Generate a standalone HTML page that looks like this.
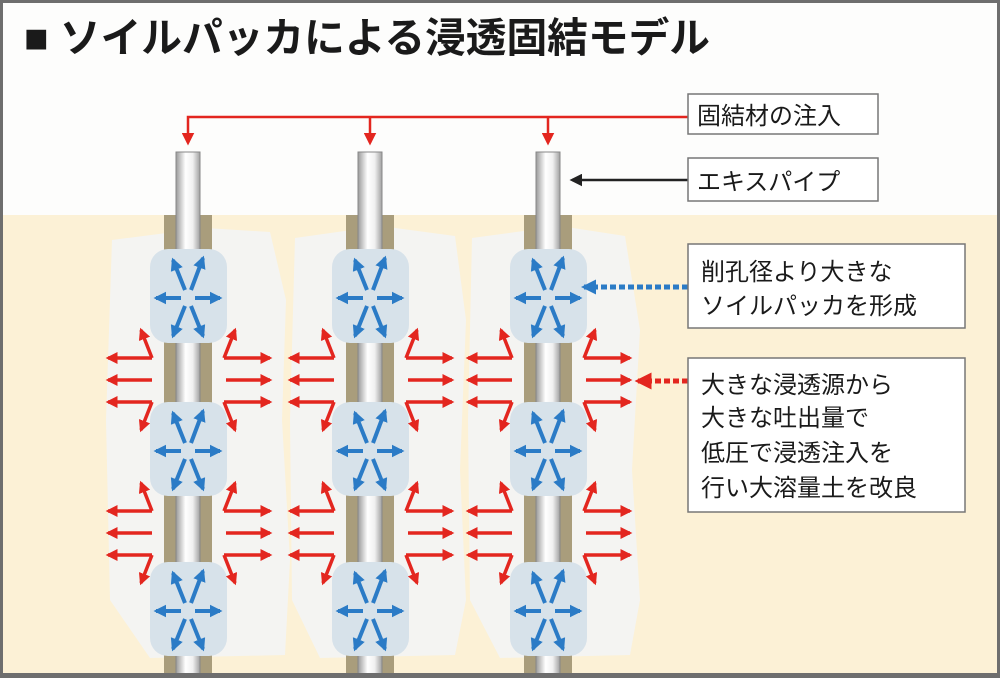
<!DOCTYPE html>
<html><head><meta charset="utf-8"><style>
html,body{margin:0;padding:0;background:#fff}
svg{display:block}
text{font-family:"Liberation Sans","Noto Sans CJK JP",sans-serif}
</style></head><body>
<svg width="1000" height="678" viewBox="0 0 1000 678" xmlns="http://www.w3.org/2000/svg">
<defs>
<marker id="mb" viewBox="0 0 10 10" refX="8" refY="5" markerWidth="3.2" markerHeight="3.2" orient="auto"><path d="M0,0L10,5L0,10z" fill="#2b7bc6"/></marker>
<marker id="mr" viewBox="0 0 10 10" refX="8" refY="5" markerWidth="3.4" markerHeight="3.4" orient="auto"><path d="M0,0L10,5L0,10z" fill="#e3261f"/></marker>
<marker id="mr2" viewBox="0 0 10 10" refX="8" refY="5" markerWidth="5" markerHeight="5" orient="auto"><path d="M0,0L10,5L0,10z" fill="#e3261f"/></marker>
<marker id="mk" viewBox="0 0 10 10" refX="8" refY="5" markerWidth="5" markerHeight="5" orient="auto"><path d="M0,0L10,5L0,10z" fill="#222"/></marker>
<marker id="mbb" viewBox="0 0 10 10" refX="8" refY="5" markerWidth="3" markerHeight="3" orient="auto"><path d="M0,0L10,5L0,10z" fill="#2b7bc6"/></marker>
<linearGradient id="pg" x1="0" x2="1"><stop offset="0" stop-color="#9a9a9a"/><stop offset="0.4" stop-color="#ffffff"/><stop offset="0.7" stop-color="#f0f0f0"/><stop offset="1" stop-color="#a0a0a0"/></linearGradient>
<g id="pk">
<rect x="-38" y="-47" width="77" height="94" rx="18" fill="#d7e2ea"/>
<g stroke="#2b7bc6" stroke-width="4" marker-end="url(#mb)" fill="none">
<line x1="-3" y1="-6" x2="-15" y2="-36"/><line x1="3" y1="-6" x2="15" y2="-38"/>
<line x1="-7" y1="2" x2="-32" y2="2"/><line x1="7" y1="2" x2="32" y2="2"/>
<line x1="-3" y1="10" x2="-15" y2="40"/><line x1="3" y1="10" x2="15" y2="40"/>
</g></g>
<g id="rd" stroke="#e3261f" stroke-width="3.5" fill="none" marker-end="url(#mr)">
<line x1="-36" y1="-22" x2="-47" y2="-50"/>
<line x1="-36" y1="-22" x2="-80" y2="-22"/>
<line x1="-36" y1="0" x2="-80" y2="0"/>
<line x1="-36" y1="22" x2="-80" y2="22"/>
<line x1="-36" y1="22" x2="-47" y2="50"/>
<line x1="36" y1="-22" x2="47" y2="-50"/>
<line x1="36" y1="-22" x2="82" y2="-22"/>
<line x1="38" y1="0" x2="82" y2="0"/>
<line x1="36" y1="22" x2="82" y2="22"/>
<line x1="36" y1="22" x2="47" y2="50"/>
</g>
<g id="col">
<rect x="-24" y="0" width="48" height="470" fill="#a99d7c"/>
<rect x="-12" y="-63" width="24" height="533" fill="url(#pg)" stroke="#888" stroke-width="1"/>
<use href="#pk" y="81"/><use href="#pk" y="234"/><use href="#pk" y="394"/>
<use href="#rd" y="165"/><use href="#rd" y="318"/>
</g>
</defs>
<rect x="0" y="0" width="1000" height="678" fill="#6e6e6e"/>
<rect x="3" y="3" width="994" height="670" fill="#fdfdfc"/>
<rect x="3" y="215" width="994" height="458" fill="#fcf1d6"/>
<path d="M112,240 L205,228 L270,232 L286,300 L282,420 L290,560 L285,655 L150,658 L110,600 L106,420 Z" fill="#f4f4f2"/>
<path d="M295,238 L380,226 L455,236 L466,320 L460,470 L466,600 L455,655 L320,658 L292,600 L290,420 Z" fill="#f4f4f2"/>
<path d="M472,238 L560,226 L625,236 L640,330 L632,470 L640,600 L630,655 L500,658 L470,600 L468,420 Z" fill="#f4f4f2"/>
<use href="#col" x="188" y="215"/>
<use href="#col" x="370" y="215"/>
<use href="#col" x="548" y="215"/>
<rect x="0" y="673" width="1000" height="5" fill="#6e6e6e"/>
<text x="24" y="52" font-size="41" font-weight="bold" fill="#1a1a1a" textLength="686" lengthAdjust="spacingAndGlyphs">■ ソイルパッカによる浸透固結モデル</text>
<polyline points="688,117 188,117 188,143" fill="none" stroke="#e3261f" stroke-width="2.5" marker-end="url(#mr2)"/>
<line x1="370" y1="117" x2="370" y2="143" stroke="#e3261f" stroke-width="2.5" marker-end="url(#mr2)"/>
<line x1="548" y1="117" x2="548" y2="143" stroke="#e3261f" stroke-width="2.5" marker-end="url(#mr2)"/>
<line x1="688" y1="180" x2="572" y2="180" stroke="#222" stroke-width="2.5" marker-end="url(#mk)"/>
<line x1="688" y1="287" x2="584" y2="287" stroke="#2b7bc6" stroke-width="5" stroke-dasharray="6,3" marker-end="url(#mbb)"/>
<line x1="688" y1="381" x2="638" y2="381" stroke="#e3261f" stroke-width="5" stroke-dasharray="6,3" marker-end="url(#mr)"/>
<g fill="#fff" stroke="#777" stroke-width="1.5">
<rect x="688" y="94" width="190" height="40"/>
<rect x="688" y="158" width="190" height="43"/>
<rect x="688" y="244" width="277" height="84"/>
<rect x="688" y="358" width="277" height="154"/>
</g>
<g font-size="24" fill="#1a1a1a">
<text x="697" y="124">固結材の注入</text>
<text x="697" y="190">エキスパイプ</text>
<text x="701" y="280">削孔径より大きな</text>
<text x="701" y="314">ソイルパッカを形成</text>
<text x="701" y="393">大きな浸透源から</text>
<text x="701" y="426">大きな吐出量で</text>
<text x="701" y="461">低圧で浸透注入を</text>
<text x="701" y="496">行い大溶量土を改良</text>
</g>
</svg>
</body></html>
